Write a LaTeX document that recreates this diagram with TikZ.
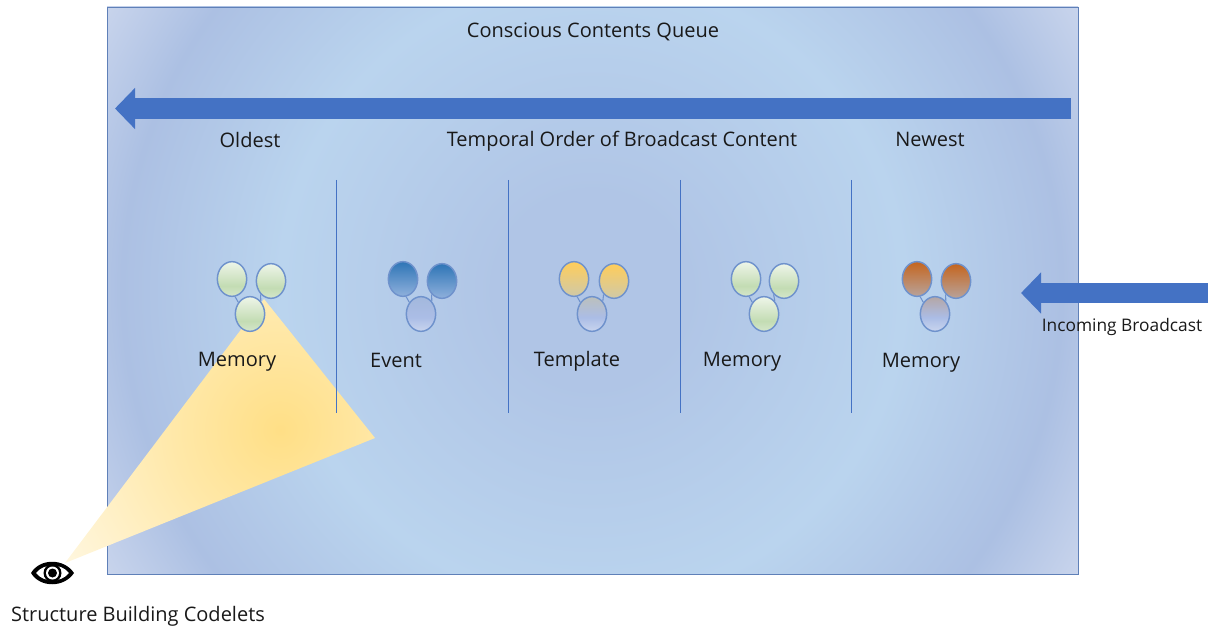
\documentclass[tikz,border=0pt]{standalone}
\usepackage{fontspec}
\usepackage{xcolor}
\usetikzlibrary{arrows.meta,shapes.geometric}
\setmainfont{Open Sans}

\definecolor{arrowblue}{HTML}{4472C4}
\definecolor{edgeblue}{HTML}{5F80B8}
\definecolor{ovaledge}{HTML}{6F92CC}
\definecolor{bgmid}{HTML}{B0C5E6}
\definecolor{bglight}{HTML}{BAD4EE}
\definecolor{bgdark}{HTML}{ACC0E3}
\definecolor{bgcorner}{HTML}{C8D4EC}
\definecolor{conehot}{HTML}{FFDF86}
\definecolor{conemid}{HTML}{FFE8A8}
\definecolor{conepale}{HTML}{FFF8E4}
\definecolor{greena}{HTML}{EEF5E9}
\definecolor{greenb}{HTML}{C3DCB3}
\definecolor{greenc}{HTML}{D5E6CB}
\definecolor{bluea}{HTML}{2E75B6}
\definecolor{blueb}{HTML}{8FB0DC}
\definecolor{yellowa}{HTML}{FFCD5A}
\definecolor{yellowb}{HTML}{CFC9A8}
\definecolor{orangea}{HTML}{C5651E}
\definecolor{orangeb}{HTML}{B8A39B}
\definecolor{lowb}{HTML}{ABBDE6}
\definecolor{lowc}{HTML}{C9D5EE}
\definecolor{lowblue}{HTML}{A3B8DC}
\definecolor{lowyellow}{HTML}{BCC0BC}
\definecolor{loworange}{HTML}{B5A6A5}

\pgfdeclareradialshading{queueglow}{\pgfpoint{0bp}{0bp}}{color(0bp)=(bgmid); color(4bp)=(bgmid); color(13bp)=(bglight); color(19.6bp)=(bgdark); color(23.4bp)=(bgcorner); color(50bp)=(bgcorner)}
\pgfdeclareradialshading{coneglow}{\pgfpoint{0bp}{0bp}}{color(0bp)=(conehot); color(9bp)=(conemid); color(23bp)=(conepale); color(50bp)=(conepale)}
\pgfdeclareverticalshading{ovalgreen}{100bp}{color(0bp)=(greenc); color(25bp)=(greenc); color(40bp)=(greenb); color(75bp)=(greena); color(100bp)=(greena)}
\pgfdeclareverticalshading{ovalblue}{100bp}{color(0bp)=(blueb); color(25bp)=(blueb); color(75bp)=(bluea); color(100bp)=(bluea)}
\pgfdeclareverticalshading{ovalyellow}{100bp}{color(0bp)=(yellowb); color(25bp)=(yellowb); color(75bp)=(yellowa); color(100bp)=(yellowa)}
\pgfdeclareverticalshading{ovalorange}{100bp}{color(0bp)=(orangeb); color(25bp)=(orangeb); color(75bp)=(orangea); color(100bp)=(orangea)}
\pgfdeclareverticalshading{lowfromblue}{100bp}{color(0bp)=(lowc); color(25bp)=(lowc); color(45bp)=(lowb); color(75bp)=(lowblue); color(100bp)=(lowblue)}
\pgfdeclareverticalshading{lowfromyellow}{100bp}{color(0bp)=(lowc); color(25bp)=(lowc); color(45bp)=(lowb); color(75bp)=(lowyellow); color(100bp)=(lowyellow)}
\pgfdeclareverticalshading{lowfromorange}{100bp}{color(0bp)=(lowc); color(25bp)=(lowc); color(45bp)=(lowb); color(75bp)=(loworange); color(100bp)=(loworange)}

\tikzset{
	oval/.style={ellipse,draw=ovaledge,line width=1.1pt,inner sep=0pt,minimum width=22pt,minimum height=26pt},
	link/.style={draw=ovaledge,line width=0.8pt},
	divider/.style={draw=arrowblue,line width=0.6pt},
	bigarrow/.style={draw=arrowblue,line width=15.5pt,-{Triangle[length=15pt,width=30pt]}},
	lab/.style={font=\fontsize{15}{18}\selectfont,inner sep=0pt,anchor=base,text=black!90}
}

\begin{document}
\begin{tikzpicture}[x=0.75pt,y=-0.75pt]
		\useasboundingbox (0,0) rectangle (1212,627);
		% queue panel
		\begin{scope}
		\clip (107,7) rectangle (1078,574);
		\shade[shading=queueglow] (-8,-310) rectangle (1192,890);
		\end{scope}
		\draw[edgeblue,line width=0.6pt] (107,7) rectangle (1078,574);
		% cone of attention
		\begin{scope}
		\clip (65,563) -- (264,299) -- (375,438) -- cycle;
		\shade[shading=coneglow] (-10,140) rectangle (570,720);
		\end{scope}
		% dividers
		\coordinate (d1t) at (336.5,180); \coordinate (d1b) at (336.5,413);
		\coordinate (d2t) at (508,180); \coordinate (d2b) at (508,413);
		\coordinate (d3t) at (680,180); \coordinate (d3b) at (680,413);
		\coordinate (d4t) at (851,180); \coordinate (d4b) at (851,413);
		\draw[divider] (d1t) -- (d1b);
		\draw[divider] (d2t) -- (d2b);
		\draw[divider] (d3t) -- (d3b);
		\draw[divider] (d4t) -- (d4b);
		% arrows
		\coordinate (timestart) at (1071,108.5);
		\coordinate (timetip) at (115,108.5);
		\draw[bigarrow] (timestart) -- (timetip);
		\coordinate (inputstart) at (1208,293);
		\coordinate (inputtip) at (1021,293);
		\draw[bigarrow] (inputstart) -- (inputtip);
		% memory, oldest
		\node[oval,shading=ovalgreen] (m1a) at (232,279) {};
		\node[oval,shading=ovalgreen] (m1b) at (271,281) {};
		\node[oval,shading=ovalgreen] (m1c) at (250,314) {};
		\draw[link] (m1a.-80) -- (m1c.135);
		\draw[link] (m1b.232) -- (m1c.50);
		% event
		\node[oval,shading=ovalblue] (e1a) at (403,279) {};
		\node[oval,shading=ovalblue] (e1b) at (442,281) {};
		\node[oval,shading=lowfromblue] (e1c) at (421,314) {};
		\draw[link] (e1a.-80) -- (e1c.135);
		\draw[link] (e1b.232) -- (e1c.50);
		% template
		\node[oval,shading=ovalyellow] (t1a) at (574,279) {};
		\node[oval,shading=ovalyellow] (t1b) at (614,281) {};
		\node[oval,shading=lowfromyellow] (t1c) at (592,314) {};
		\draw[link] (t1a.-80) -- (t1c.135);
		\draw[link] (t1b.232) -- (t1c.50);
		% memory, middle
		\node[oval,shading=ovalgreen] (m2a) at (746,279) {};
		\node[oval,shading=ovalgreen] (m2b) at (784,281) {};
		\node[oval,shading=ovalgreen] (m2c) at (764,314) {};
		\draw[link] (m2a.-80) -- (m2c.135);
		\draw[link] (m2b.232) -- (m2c.50);
		% memory, newest
		\node[oval,shading=ovalorange] (m3a) at (917,279) {};
		\node[oval,shading=ovalorange] (m3b) at (956,281) {};
		\node[oval,shading=lowfromorange] (m3c) at (935,314) {};
		\draw[link] (m3a.-80) -- (m3c.135);
		\draw[link] (m3b.232) -- (m3c.50);
		% eye
		\fill[black] (31,573) .. controls (40,558) and (64,558) .. (74,573) .. controls (64,588) and (40,588) .. (31,573) -- cycle;
		\fill[white] (36,573) .. controls (44,563) and (61,563) .. (69,573) .. controls (61,583) and (44,583) .. (36,573) -- cycle;
		\fill[black] (52.5,573) circle (9);
		\fill[white] (52.5,573) circle (6.5);
		\fill[black] (52.5,573) circle (4.5);
		% labels
		\node[lab] (title) at (593,38) {Conscious Contents Queue};
		\node[lab] (oldest) at (250,148) {Oldest};
		\node[lab] (order) at (622,147) {Temporal Order of Broadcast Content};
		\node[lab] (newest) at (930,147) {Newest};
		\node[lab] (mem1) at (237,366) {Memory};
		\node[lab] (event) at (396,367) {Event};
		\node[lab] (templ) at (577,366) {Template};
		\node[lab] (mem2) at (742,366) {Memory};
		\node[lab] (mem3) at (921,367) {Memory};
		\node[lab,font=\fontsize{13}{16}\selectfont] (incoming) at (1122,331) {Incoming Broadcast};
		\node[lab] (codelets) at (138,621) {Structure Building Codelets};
		\end{tikzpicture}
\end{document}
